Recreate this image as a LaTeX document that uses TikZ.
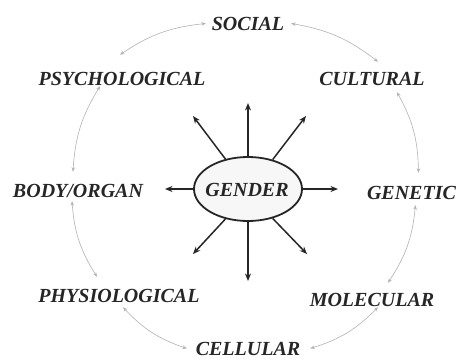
\documentclass[tikz,border=0pt]{standalone}
\usepackage{fontspec}
\setmainfont{Liberation Serif}
\usetikzlibrary{shapes.geometric,arrows.meta}
\tikzset{
  lbl/.style={inner sep=1pt,outer sep=0pt,anchor=base,text=black!85,font=\bfseries\itshape\fontsize{20}{24}\selectfont},
  hub/.style={ellipse,draw=black!85,line width=1.8pt,fill=black!3,minimum width=108pt,minimum height=64pt,inner sep=0pt},
  ray/.style={draw=black!85,line width=1.5pt,-{Stealth[length=7.5pt,width=6pt]}},
  ring/.style={draw=black!30,line width=0.6pt,{Stealth[length=4.5pt,width=3.5pt]}-{Stealth[length=4.5pt,width=3.5pt]},bend right=14},
}
\begin{document}
\begin{tikzpicture}[x=1pt,y=-1pt]
\path[use as bounding box] (0,0) rectangle (459,359);
% outer ring of levels
\node[lbl] (social) at (248,30) {SOCIAL};
\node[lbl] (psych) at (122,85) {PSYCHOLOGICAL};
\node[lbl] (cultural) at (372,85) {CULTURAL};
\node[lbl] (body) at (78,197) {BODY/ORGAN};
\node[lbl,anchor=base west] (genetic) at (366,199) {GENETIC};
\node[lbl] (physio) at (119,302) {PHYSIOLOGICAL};
\node[lbl] (molecular) at (372,306) {MOLECULAR};
\node[lbl] (cellular) at (248,355) {CELLULAR};
% centre
\node[hub] (gender) at (248,189) {};
\node[lbl] (gendertxt) at (247,196) {GENDER};
% ray ends
\coordinate (tipN) at (248,103);
\coordinate (tipNW) at (193,116);
\coordinate (tipNE) at (306,116);
\coordinate (tipW) at (165,189);
\coordinate (tipE) at (338,189);
\coordinate (tipSW) at (193,254);
\coordinate (tipS) at (248,281);
\coordinate (tipSE) at (307,254);
\draw[ray] (gender.north) -- (tipN);
\draw[ray] (gender.127) -- (tipNW);
\draw[ray] (gender.50) -- (tipNE);
\draw[ray] (gender.west) -- (tipW);
\draw[ray] (gender.east) -- (tipE);
\draw[ray] (gender.233) -- (tipSW);
\draw[ray] (gender.south) -- (tipS);
\draw[ray] (gender.-50) -- (tipSE);
% ring connectors
\draw[ring] ([xshift=-5pt]social.west) to ([yshift=16pt,xshift=-2pt]psych.north);
\draw[ring] ([xshift=-22pt]psych.south) to ([xshift=-5pt,yshift=11pt]body.north);
\draw[ring] ([xshift=-6pt,yshift=-3pt]body.south) to ([xshift=-22pt,yshift=11pt]physio.north);
\draw[ring] ([xshift=4pt,yshift=-4pt]physio.south) to ([xshift=-8pt]cellular.west);
\draw[ring] ([xshift=9pt]cellular.east) to ([xshift=6pt]molecular.south);
\draw[ring] ([xshift=16pt,yshift=9pt]molecular.north) to ([xshift=4pt,yshift=-5pt]genetic.south);
\draw[ring] ([xshift=7pt,yshift=12pt]genetic.north) to ([xshift=25pt,yshift=-6pt]cultural.south);
\draw[ring] ([xshift=6pt,yshift=9pt]cultural.north) to ([xshift=6pt]social.east);
\end{tikzpicture}
\end{document}
